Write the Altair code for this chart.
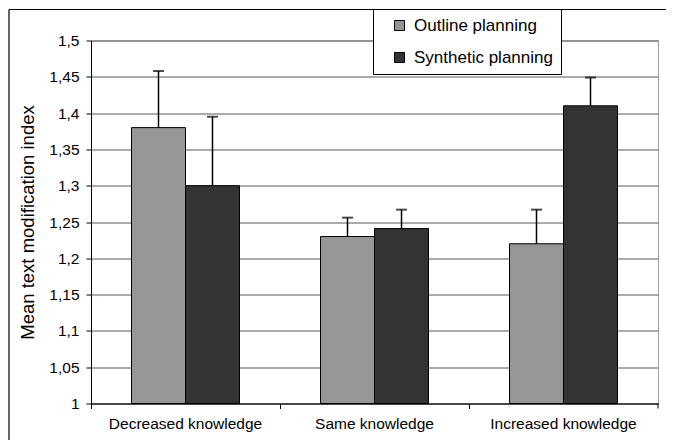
import altair as alt
import pandas as pd

categories = ["Decreased knowledge", "Same knowledge", "Increased knowledge"]
groups = ["Outline planning", "Synthetic planning"]
outline_mean = [1.38, 1.23, 1.22]
outline_err = [0.078, 0.026, 0.047]
synthetic_mean = [1.30, 1.241, 1.41]
synthetic_err = [0.095, 0.026, 0.039]
y_ticks = [1.0, 1.05, 1.1, 1.15, 1.2, 1.25, 1.3, 1.35, 1.4, 1.45, 1.5]
colors = ["#969696", "#333333"]

rows = []
for i, c in enumerate(categories):
    rows.append({"cat": c, "grp": groups[0], "mean": outline_mean[i], "upper": outline_mean[i] + outline_err[i]})
    rows.append({"cat": c, "grp": groups[1], "mean": synthetic_mean[i], "upper": synthetic_mean[i] + synthetic_err[i]})
df = pd.DataFrame(rows)

W, H = 567, 363
FONT = "Liberation Sans"

xscale = alt.Scale(domain=categories, paddingInner=0, paddingOuter=0)
xoff = alt.XOffset("grp:N", sort=groups, scale=alt.Scale(domain=groups, paddingInner=0, paddingOuter=0.75))
yscale = alt.Scale(domain=[1, 1.5], nice=False, zero=False)

x_label_axis = alt.Axis(title=None, orient="bottom", ticks=False, tickSize=0, domain=True,
                        labelPadding=13, grid=False, labelAngle=0,
                        labelFont=FONT, labelFontSize=15.5, labelFontWeight="normal", labelColor="black")
x_tick_axis = alt.Axis(title=None, orient="bottom", labels=False, ticks=True, tickSize=5,
                       bandPosition=0, domain=False, grid=False)
y_axis = alt.Axis(title="Mean text modification index", values=y_ticks,
                  labelExpr="replace(format(datum.value, '.2~f'), '.', ',')",
                  grid=True, tickSize=5, labelPadding=7,
                  labelFont=FONT, labelFontSize=15.5, labelColor="black",
                  titleFont=FONT, titleFontSize=18.5, titleFontWeight="normal", titleColor="black",
                  titleX=-64, titleY=H / 2, titleAngle=-90, titleBaseline="middle", titleAlign="center")

base = alt.Chart(df)

bars = base.mark_bar(stroke="black", strokeWidth=1).encode(
    x=alt.X("cat:N", sort=categories, scale=xscale, axis=x_label_axis),
    xOffset=xoff,
    y=alt.Y("mean:Q", scale=yscale, axis=y_axis),
    y2=alt.datum(1.0),
    color=alt.Color("grp:N", sort=groups, scale=alt.Scale(domain=groups, range=colors),
                    legend=alt.Legend(title=None, orient="none", legendX=282, legendY=-31.5,
                                      fillColor="white", strokeColor="black", padding=8,
                                      symbolType="square", symbolSize=100, symbolStrokeColor="black",
                                      symbolStrokeWidth=1, symbolOffset=10, labelOffset=6,
                                      labelFontSize=17, labelFont=FONT, labelColor="black",
                                      rowPadding=14, labelLimit=300)),
)

tick_axis = base.mark_bar(opacity=0).encode(
    x=alt.X("cat:N", sort=categories, scale=xscale, axis=x_tick_axis),
    y=alt.Y("mean:Q", scale=yscale, axis=y_axis),
    y2=alt.datum(1.0),
)

err = base.mark_rule(color="black", strokeWidth=1.5).encode(
    x=alt.X("cat:N", sort=categories, scale=xscale, axis=None),
    xOffset=xoff,
    y=alt.Y("mean:Q", scale=yscale, axis=y_axis),
    y2="upper:Q",
)

caps = base.mark_tick(color="black", thickness=2, size=11).encode(
    x=alt.X("cat:N", sort=categories, scale=xscale, axis=None),
    xOffset=xoff,
    y=alt.Y("upper:Q", scale=yscale, axis=y_axis),
)

deco = pd.DataFrame({"k": [0]})
end_tick = alt.Chart(deco).mark_rule(color="black").encode(
    x=alt.value(W), y=alt.value(H), y2=alt.value(H + 5))
outer_left = alt.Chart(deco).mark_rule(color="black", strokeWidth=1.2).encode(
    x=alt.value(-82), y=alt.value(-31), y2=alt.value(H + 37))
outer_top = alt.Chart(deco).mark_rule(color="black", strokeWidth=1.2).encode(
    x=alt.value(-82), x2=alt.value(W + 8), y=alt.value(-31))

chart = alt.layer(bars, err, caps, tick_axis, end_tick, outer_left, outer_top).resolve_scale(
    x="shared", y="shared"
).resolve_axis(x="independent").properties(
    width=W, height=H,
    background="white",
    autosize=alt.AutoSizeParams(type="none"),
    padding={"left": 83, "top": 32.5, "right": 8, "bottom": 37},
).configure_axis(
    labelFont=FONT, labelFontWeight="normal", labelColor="black",
    titleFont=FONT, titleFontWeight="normal", titleColor="black",
    domainColor="black", domainWidth=1, tickColor="black", tickWidth=1,
    gridColor="#595959", gridWidth=1, gridOpacity=1,
).configure_view(stroke="#a0a0a0", strokeWidth=1)

chart.save("out.html", embed_options={"renderer": "svg", "actions": False})
